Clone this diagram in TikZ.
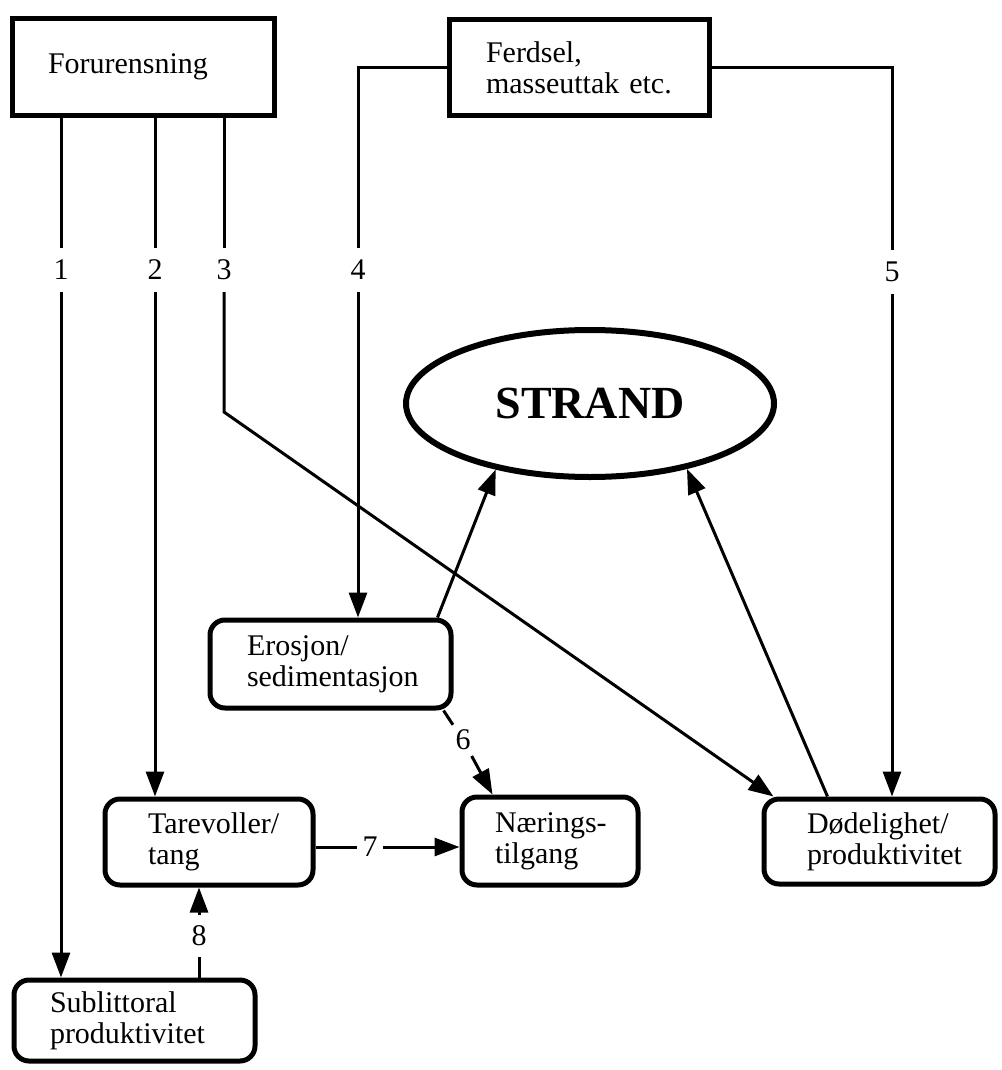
\documentclass[tikz,border=0pt]{standalone}
\usepackage{fontspec}
\setmainfont{Liberation Serif}
\usetikzlibrary{arrows.meta,shapes.geometric,calc}
\newcommand\diagfont{\fontsize{30}{31}\selectfont}
\newcommand\titlefont{\fontsize{46}{50}\selectfont\bfseries}
\begin{document}
\begin{tikzpicture}[x=1pt,y=-1pt,
  sq/.style={draw, line width=5pt, inner sep=0pt, align=left, font=\diagfont},
  rbox/.style={draw, line width=5pt, rounded corners=15pt, inner sep=0pt, align=left, font=\diagfont},
  con/.style={line width=3pt},
  arr/.style={con, -{Triangle[length=25pt,width=18pt]}},
  num/.style={inner sep=0pt, font=\diagfont, minimum height=44pt},
]
\useasboundingbox (0,0) rectangle (1001,1070);

% sources
\node[sq, minimum width=262pt, minimum height=97pt, text width=191pt] (forur) at (143.5,67) {Forurensning};
\node[sq, minimum width=260pt, minimum height=96pt, text width=187pt] (ferd) at (579.5,67.5) {Ferdsel,\\\mbox{masseuttak etc.}};

% central ellipse
\node[draw, ellipse, line width=6pt, minimum width=368pt, minimum height=147pt, inner sep=0pt, font=\titlefont] (strand) at (590,403.5) {STRAND};

% effect boxes
\node[rbox, minimum width=241pt, minimum height=88pt, text width=167pt] (eros) at (330.5,664) {Erosjon/\\\mbox{sedimentasjon}};
\node[rbox, minimum width=208pt, minimum height=86pt, text width=122pt] (tare) at (209,842) {\mbox{Tarevoller/}\\tang};
\node[rbox, minimum width=176pt, minimum height=88pt, text width=110pt] (naer) at (550,841) {\mbox{Nærings-}\\tilgang};
\node[rbox, minimum width=231pt, minimum height=85pt, text width=145pt] (dod) at (879.5,841.5) {\mbox{Dødelighet/}\\\mbox{produktivitet}};
\node[rbox, minimum width=241pt, minimum height=81pt, text width=169pt] (sub) at (134.5,1020.5) {Sublittoral\\\mbox{produktivitet}};

% connector numbers
\node[num] (l1) at (61,270) {1};
\node[num] (l2) at (155,270) {2};
\node[num] (l3) at (224,270) {3};
\node[num] (l4) at (358,270) {4};
\node[num] (l5) at (892,272) {5};
\node[num, minimum height=0pt, circle, minimum size=36pt] (l6) at (463,740) {6};
\node[num, minimum height=0pt, minimum width=26pt] (l7) at (370,847) {7};
\node[num, minimum height=42pt] (l8) at (199,936) {8};

% bends
\coordinate (b3) at (223,412);
\coordinate (b4) at (358,68);
\coordinate (b5) at (892,68);

% pollution paths
\draw[con] (forur.south -| l1) -- (l1.north);
\draw[arr] (l1.south) -- (l1 |- sub.north);
\draw[con] (forur.south -| l2) -- (l2.north);
\draw[arr] (l2.south) -- (l2 |- tare.north);
\draw[con] (forur.south -| l3) -- (l3.north);
\draw[arr] (l3.south) -- (l3 |- b3) -- ($(dod.north west)+(12,0)$);

% traffic paths
\draw[con] (b4 -| ferd.west) -- (b4) -- (l4.north);
\draw[arr] (l4.south) -- (l4 |- eros.north);
\draw[con] (b5 -| ferd.east) -- (b5) -- (l5.north);
\draw[arr] (l5.south) -- (l5 |- dod.north);

% effects on the shore
\draw[arr] ($(eros.north east)+(-16,0)$) -- (strand.215);
\draw[arr] ($(dod.north west)+(66,0)$) -- (strand.326);

% secondary links
\draw[con] ($(eros.south east)+(-10,0)$) -- (l6);
\draw[arr] (l6) -- ($(naer.north west)+(33,0)$);
\draw[con] (l7 -| tare.east) -- (l7.west);
\draw[arr] (l7.east) -- (l7 -| naer.west);
\draw[con] (l8 |- sub.north) -- (l8.south);
\draw[arr] (l8.north) -- (l8 |- tare.south);
\end{tikzpicture}
\end{document}
